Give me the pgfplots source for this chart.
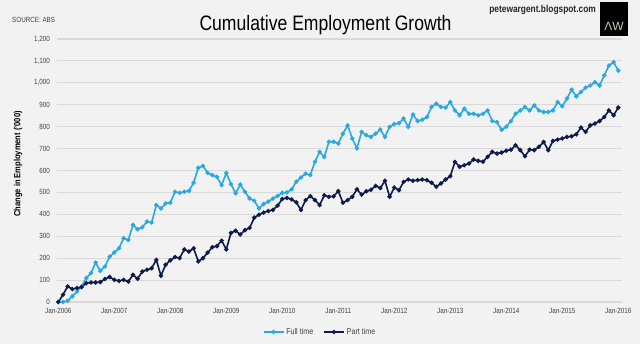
\documentclass[border=0pt]{standalone}
\usepackage{pgfplots}
\pgfplotsset{compat=1.18}
\usepackage{pgfplotstable}
\usepackage{fontspec}
\setmainfont{Liberation Sans}[FakeStretch=0.84]
\newfontfamily\wide{Liberation Sans}
\definecolor{bg}{HTML}{F2F2F2}
\definecolor{gridc}{HTML}{D9D9D9}
\definecolor{ftc}{HTML}{29A9E0}
\definecolor{ptc}{HTML}{0D1B4C}
\definecolor{txt}{HTML}{404040}
\pgfplotstableread{
m ft pt
0 0 0
1 0 33
2 6 71
3 26 59
4 48 64
5 71 68
6 109 86
7 132 89
8 180 89
9 142 91
10 162 105
11 207 114
12 226 101
13 245 96
14 291 101
15 283 93
16 352 124
17 332 106
18 341 139
19 367 147
20 362 154
21 442 192
22 427 120
23 450 170
24 453 190
25 503 205
26 498 200
27 503 240
28 507 230
29 544 245
30 612 185
31 621 200
32 589 225
33 579 250
34 571 255
35 533 280
36 589 240
37 538 315
38 496 325
39 536 308
40 503 328
41 472 338
42 462 385
43 427 398
44 447 408
45 458 415
46 472 420
47 484 440
48 498 470
49 500 475
50 514 468
51 549 455
52 568 420
53 586 465
54 579 483
55 640 465
56 685 442
57 662 487
58 731 480
59 731 482
60 723 506
61 768 453
62 806 465
63 746 480
64 701 514
65 776 490
66 761 505
67 753 512
68 768 530
69 787 520
70 753 553
71 799 480
72 812 522
73 816 510
74 837 548
75 799 559
76 855 553
77 826 556
78 832 559
79 844 556
80 890 544
81 905 526
82 890 541
83 887 559
84 912 574
85 874 639
86 852 617
87 882 624
88 859 632
89 859 650
90 852 644
91 859 640
92 874 662
93 826 685
94 821 677
95 786 682
96 800 690
97 825 695
98 859 715
99 874 693
100 890 665
101 874 695
102 897 693
103 874 708
104 867 730
105 867 693
106 874 735
107 912 741
108 893 746
109 928 753
110 969 756
111 938 765
112 958 796
113 978 776
114 988 806
115 1003 814
116 988 826
117 1034 844
118 1079 874
119 1094 852
120 1056 887
}\emp
\begin{document}
\begin{tikzpicture}
\fill[bg] (0,0) rectangle (640bp,344bp);
\useasboundingbox (0,0) rectangle (640bp,344bp);
\node[anchor=base, font=\fontsize{21}{24}\selectfont, text=black] at (325.5bp,313bp) {Cumulative Employment Growth};
\node[anchor=base west, inner sep=0pt, font=\fontsize{7.5}{9}\selectfont, text=txt] at (12bp,321bp) {SOURCE: ABS};
\node[anchor=base east, inner sep=0pt, font=\bfseries\fontsize{10}{12}\selectfont, text=black!85] at (596bp,331bp) {petewargent.blogspot.com};
\fill[black] (600bp,308bp) rectangle (628bp,342bp);
\node[anchor=base, inner sep=0pt, font=\wide\fontsize{12}{14}\selectfont, text={rgb,255:red,210;green,200;blue,170}] at (614bp,313bp) {ΛW};
\begin{axis}[
  at={(57bp,42bp)}, anchor=south west,
  scale only axis, width=565bp, height=263bp,
  xmin=-0.28, xmax=120.8, ymin=0, ymax=1200,
  clip=false,
  axis line style={draw=none},
  major tick length=0pt,
  ymajorgrids, grid style={gridc, line width=1.1bp},
  ytick={0,100,...,1200},
  xtick={0,12,...,120},
  xticklabels={Jan-2006,Jan-2007,Jan-2008,Jan-2009,Jan-2010,Jan-2011,Jan-2012,Jan-2013,Jan-2014,Jan-2015,Jan-2016},
  /pgf/number format/assume math mode=true,
  yticklabel style={/pgf/number format/1000 sep={,}, anchor=east, inner sep=0pt, xshift=-7bp, font=\fontsize{7.5}{9}\selectfont, text=txt},
  xticklabel style={anchor=north, inner sep=0pt, yshift=-6.5bp, font=\fontsize{7.5}{9}\selectfont, text=txt},
  ylabel={Change in Employment ('000)},
  every axis y label/.style={at={(axis description cs:-0.069,0.525)}, rotate=90, anchor=center, font=\bfseries\fontsize{9}{11}\selectfont, text=black},
  legend columns=2,
  legend style={at={(axis description cs:0.4655,-0.114)}, anchor=center, draw=none, fill=none, font=\fontsize{8.5}{10}\selectfont, text=txt, /tikz/every even column/.append style={column sep=8bp}},
  legend image code/.code={\draw[mark repeat=2,mark phase=2,#1] plot coordinates {(0bp,0bp) (10bp,0bp) (20bp,0bp)};},
]
\addplot[ftc, line width=1.6bp, mark=*, mark size=1.3bp, mark options={fill=ftc, draw=ftc}] table[x=m, y=ft] {\emp};
\addlegendentry{Full time}
\addplot[ptc, line width=1.6bp, mark=*, mark size=1.3bp, mark options={fill=ptc, draw=ptc}] table[x=m, y=pt] {\emp};
\addlegendentry{Part time}
\end{axis}
\end{tikzpicture}
\end{document}
